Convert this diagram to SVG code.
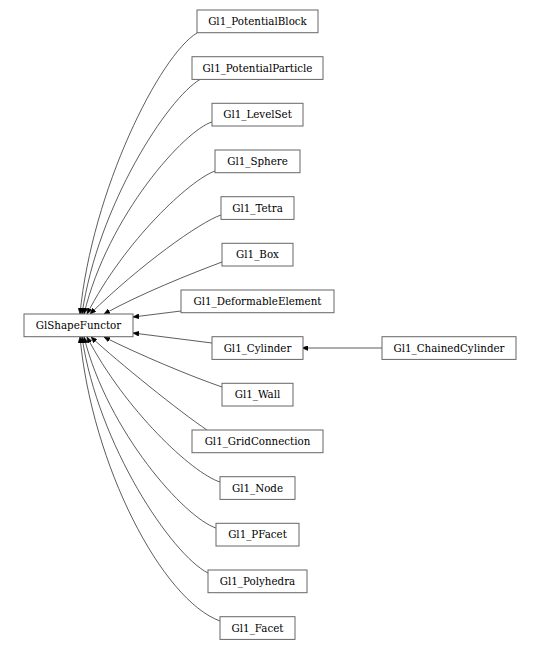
<svg xmlns="http://www.w3.org/2000/svg" width="541" height="650" viewBox="0 0 541 650">
<defs>
<style>
.n rect{fill:#fff;stroke:#666;stroke-width:1}
.n text{font-family:"DejaVu Serif","Liberation Serif",serif;font-size:10.3px;fill:#000;text-anchor:middle}
.e path{fill:none;stroke:#333;stroke-width:0.8;marker-end:url(#ah)}
</style>
<marker id="ah" viewBox="0 0 6 5" refX="6" refY="2.5" markerWidth="6" markerHeight="5" markerUnits="userSpaceOnUse" orient="auto">
<path d="M0,0 L6,2.5 L0,5 z" fill="#000" stroke="#000" stroke-width="0.5"/>
</marker>
</defs>
<rect width="541" height="650" fill="#fff"/>
<g id="edges" class="e">
<path d="M197,33 C160,55 92,190 80,314"/>
<path d="M200,79.5 C168,98 98,205 82,314"/>
<path d="M212,122 C185,130 108,215 84,314"/>
<path d="M215,171 C190,180 125,240 87,314"/>
<path d="M221,215 C200,222 140,265 90,314"/>
<path d="M222,262 C190,274 140,294 104,314"/>
<path d="M181,311 L133,317"/>
<path d="M212,343 L133,333"/>
<path d="M382,348 L302,348"/>
<path d="M222,387 C190,376 140,355 104,337"/>
<path d="M207,430 C180,412 118,362 91,337"/>
<path d="M220,482 C192,473 125,410 87,337"/>
<path d="M216,528 C185,518 108,432 84,337"/>
<path d="M208,573 C172,555 98,445 82,337"/>
<path d="M220,621 C162,600 92,465 80,337"/>
</g>
<g id="GlShapeFunctor" class="n"><rect x="24" y="314" width="109" height="22.7"/><text x="78.5" y="328.9">GlShapeFunctor</text></g>
<g id="Gl1_PotentialBlock" class="n"><rect x="197" y="10" width="121" height="22.7"/><text x="257.5" y="24.9">Gl1_PotentialBlock</text></g>
<g id="Gl1_PotentialParticle" class="n"><rect x="192" y="56.7" width="131" height="22.7"/><text x="257.5" y="71.6">Gl1_PotentialParticle</text></g>
<g id="Gl1_LevelSet" class="n"><rect x="212" y="103.3" width="91" height="22.7"/><text x="257.5" y="118.2">Gl1_LevelSet</text></g>
<g id="Gl1_Sphere" class="n"><rect x="215" y="150" width="85" height="22.7"/><text x="257.5" y="164.9">Gl1_Sphere</text></g>
<g id="Gl1_Tetra" class="n"><rect x="221" y="196.7" width="73" height="22.7"/><text x="257.5" y="211.6">Gl1_Tetra</text></g>
<g id="Gl1_Box" class="n"><rect x="222" y="243.3" width="71" height="22.7"/><text x="257.5" y="258.2">Gl1_Box</text></g>
<g id="Gl1_DeformableElement" class="n"><rect x="181" y="290" width="153" height="22.7"/><text x="257.5" y="304.9">Gl1_DeformableElement</text></g>
<g id="Gl1_Cylinder" class="n"><rect x="212" y="336.7" width="91" height="22.7"/><text x="257.5" y="351.6">Gl1_Cylinder</text></g>
<g id="Gl1_ChainedCylinder" class="n"><rect x="382" y="336.7" width="134" height="22.7"/><text x="449" y="351.6">Gl1_ChainedCylinder</text></g>
<g id="Gl1_Wall" class="n"><rect x="222" y="383.3" width="71" height="22.7"/><text x="257.5" y="398.2">Gl1_Wall</text></g>
<g id="Gl1_GridConnection" class="n"><rect x="192" y="430" width="131" height="22.7"/><text x="257.5" y="444.9">Gl1_GridConnection</text></g>
<g id="Gl1_Node" class="n"><rect x="220" y="476.7" width="75" height="22.7"/><text x="257.5" y="491.6">Gl1_Node</text></g>
<g id="Gl1_PFacet" class="n"><rect x="216" y="523.3" width="83" height="22.7"/><text x="257.5" y="538.2">Gl1_PFacet</text></g>
<g id="Gl1_Polyhedra" class="n"><rect x="208" y="570" width="99" height="22.7"/><text x="257.5" y="584.9">Gl1_Polyhedra</text></g>
<g id="Gl1_Facet" class="n"><rect x="220" y="616.7" width="75" height="22.7"/><text x="257.5" y="631.6">Gl1_Facet</text></g>
</svg>
